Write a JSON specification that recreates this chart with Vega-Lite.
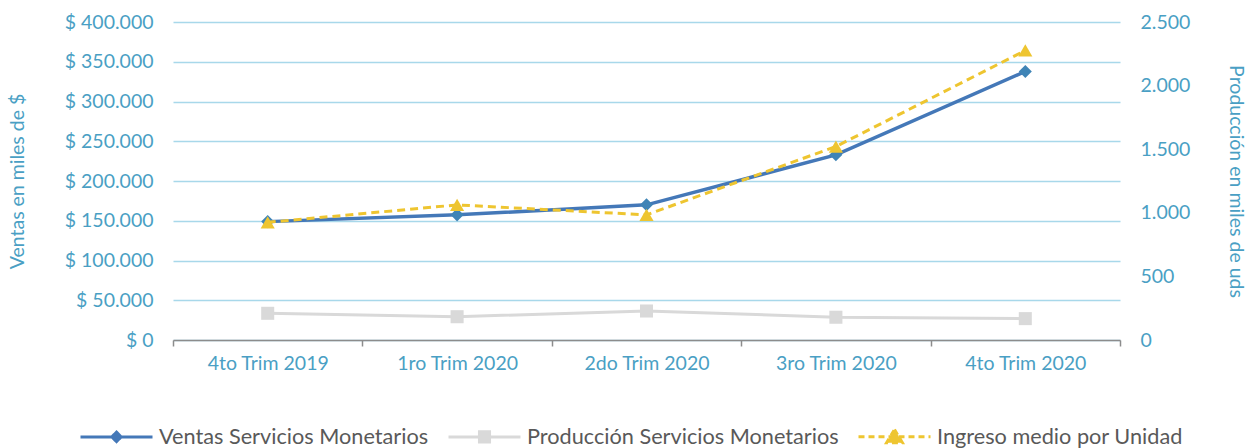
{
  "$schema": "https://vega.github.io/schema/vega-lite/v6.json",
  "width": 947,
  "height": 318,
  "autosize": {"type": "none"},
  "padding": {"left": 173, "right": 136, "top": 22, "bottom": 108},
  "config": {
    "view": {"stroke": null},
    "font": "Lato",
    "locale": {"number": {"decimal": ",", "thousands": ".", "grouping": [3], "currency": ["$ ", ""]}},
    "axis": {"labelFont": "Lato", "labelFontSize": 19.5, "labelColor": "#4A9FC4", "titleFont": "Lato", "titleFontSize": 19.5, "titleColor": "#4A9FC4", "titleFontWeight": "normal"}
  },
  "data": {"values": [
    {"q": "4to Trim 2019", "s": "Ventas Servicios Monetarios", "v": 148900},
    {"q": "1ro Trim 2020", "s": "Ventas Servicios Monetarios", "v": 157400},
    {"q": "2do Trim 2020", "s": "Ventas Servicios Monetarios", "v": 170000},
    {"q": "3ro Trim 2020", "s": "Ventas Servicios Monetarios", "v": 232900},
    {"q": "4to Trim 2020", "s": "Ventas Servicios Monetarios", "v": 337800},
    {"q": "4to Trim 2019", "s": "Producción Servicios Monetarios", "v": 210},
    {"q": "1ro Trim 2020", "s": "Producción Servicios Monetarios", "v": 183},
    {"q": "2do Trim 2020", "s": "Producción Servicios Monetarios", "v": 228},
    {"q": "3ro Trim 2020", "s": "Producción Servicios Monetarios", "v": 179},
    {"q": "4to Trim 2020", "s": "Producción Servicios Monetarios", "v": 168},
    {"q": "4to Trim 2019", "s": "Ingreso medio por Unidad", "v": 925},
    {"q": "1ro Trim 2020", "s": "Ingreso medio por Unidad", "v": 1062},
    {"q": "2do Trim 2020", "s": "Ingreso medio por Unidad", "v": 984},
    {"q": "3ro Trim 2020", "s": "Ingreso medio por Unidad", "v": 1521},
    {"q": "4to Trim 2020", "s": "Ingreso medio por Unidad", "v": 2276}
  ]},
  "encoding": {
    "x": {
      "field": "q", "type": "nominal", "sort": null,
      "scale": {"type": "band", "paddingInner": 0, "paddingOuter": 0},
      "axis": {"title": null, "labelAngle": 0, "tickBand": "extent", "domainColor": "#8C8C8C", "tickColor": "#8C8C8C", "tickSize": 6, "domainWidth": 1.5, "tickWidth": 1.5, "labelPadding": 8, "grid": false}
    }
  },
  "layer": [
    {
      "transform": [{"filter": "datum.s === 'Ventas Servicios Monetarios'"}],
      "encoding": {
        "y": {
          "field": "v", "type": "quantitative",
          "scale": {"domain": [0, 400000], "nice": false, "zero": true},
          "axis": {"orient": "left", "values": [0, 50000, 100000, 150000, 200000, 250000, 300000, 350000, 400000], "format": "$,.0f", "title": "Ventas en miles de $", "domain": false, "ticks": false, "labelPadding": 20, "grid": true, "gridColor": "#A8D8EA", "gridWidth": 1.5, "titlePadding": 37}
        }
      },
      "layer": [
        {
          "mark": {"type": "line", "strokeWidth": 3.5},
          "encoding": {
            "color": {
              "field": "s", "type": "nominal",
              "scale": {"domain": ["Ventas Servicios Monetarios", "Producción Servicios Monetarios", "Ingreso medio por Unidad"], "range": ["#4478B8", "#D9D9D9", "#EEC530"]},
              "legend": {
                "title": null, "orient": "none", "legendX": -94, "legendY": 377, "direction": "horizontal", "padding": 0,
                "symbolSize": 5184, "symbolStrokeWidth": 3, "labelFontSize": 21.7, "labelColor": "#595959", "labelFont": "Lato",
                "columnPadding": 13, "labelOffset": 5, "labelLimit": 500,
                "encode": {"symbols": {"update": {
                  "shape": {"signal": "datum.value === 'Ventas Servicios Monetarios' ? 'M-1,0H1M0,-0.13L0.13,0L0,0.13L-0.13,0Z' : datum.value === 'Producción Servicios Monetarios' ? 'M-1,0H1M-0.14,-0.14H0.14V0.14H-0.14Z' : 'M-1,0H1M0,-0.2L0.22,0.17H-0.22Z'"},
                  "strokeDash": {"signal": "datum.value === 'Ingreso medio por Unidad' ? [6,4] : [1,0]"},
                  "stroke": {"signal": "scale('color', datum.value)"},
                  "fill": {"signal": "scale('color', datum.value)"},
                  "strokeWidth": {"value": 3},
                  "opacity": {"value": 1}
                }}}
              }
            }
          }
        },
        {"mark": {"type": "point", "filled": true, "opacity": 1, "size": 170, "shape": "diamond", "color": "#3F84B6"}, "encoding": {}}
      ]
    },
    {
      "transform": [{"filter": "datum.s !== 'Ventas Servicios Monetarios'"}],
      "encoding": {
        "y": {
          "field": "v", "type": "quantitative",
          "scale": {"domain": [0, 2500], "nice": false, "zero": true},
          "axis": {"orient": "right", "values": [0, 500, 1000, 1500, 2000, 2500], "format": ",.0f", "title": "Producción en miles de uds", "domain": false, "ticks": false, "grid": false, "labelPadding": 20, "titlePadding": 36}
        }
      },
      "layer": [
        {"transform": [{"filter": "datum.s === 'Producción Servicios Monetarios'"}], "mark": {"type": "line", "strokeWidth": 3}, "encoding": {"color": {"field": "s", "type": "nominal"}}},
        {"transform": [{"filter": "datum.s === 'Producción Servicios Monetarios'"}], "mark": {"type": "point", "filled": true, "opacity": 1, "size": 170, "shape": "square", "color": "#D9D9D9"}, "encoding": {}},
        {"transform": [{"filter": "datum.s === 'Ingreso medio por Unidad'"}], "mark": {"type": "line", "strokeWidth": 3, "strokeDash": [8, 5]}, "encoding": {"color": {"field": "s", "type": "nominal"}}},
        {"transform": [{"filter": "datum.s === 'Ingreso medio por Unidad'"}], "mark": {"type": "point", "filled": true, "opacity": 1, "size": 200, "shape": "triangle-up", "color": "#EEC530"}, "encoding": {}}
      ]
    }
  ],
  "resolve": {"scale": {"y": "independent"}}
}
